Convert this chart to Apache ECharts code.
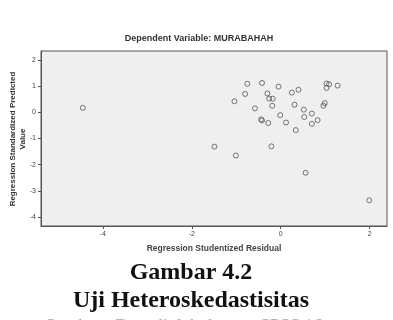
<!DOCTYPE html>
<html>
<head>
<meta charset="utf-8">
<script src="https://cdn.jsdelivr.net/npm/echarts@6/dist/echarts.min.js"></script>
<style>
  html, body { margin: 0; padding: 0; background: #fff; }
  #chart { width: 393px; height: 320px; }
</style>
</head>
<body>
<div id="chart"></div>
<script>
// studentized residual (x) vs standardized predicted value (y)
let residual = [-4.45, -0.75, -0.42, -0.80, -1.04, -0.30, -0.26, -0.18, -0.05, 0.25,
  0.40, -0.19, -0.58, 0.31, 0.52, 0.70, 0.96, 0.99, 1.03, 1.09,
  1.03, 1.28, 0.53, 0.83, -0.01, -0.44, -0.42, -0.28, 0.12, 0.70,
  0.34, -1.49, -0.21, -1.01, 0.56, 1.99]
let predicted = [0.17, 1.09, 1.12, 0.70, 0.42, 0.72, 0.52, 0.52, 0.98, 0.75,
  0.86, 0.25, 0.15, 0.29, 0.10, -0.05, 0.25, 0.35, 1.10, 1.07,
  0.93, 1.02, -0.18, -0.30, -0.11, -0.27, -0.31, -0.41, -0.39, -0.44,
  -0.68, -1.31, -1.30, -1.65, -2.31, -3.36]
let xTicks = [-4, -2, 0, 2]
let yTicks = [-4, -3, -2, -1, 0, 1, 2]

let points = residual.map((v, i) => [v, predicted[i]])

let chart = echarts.init(document.getElementById('chart'))
let tickLabel = { fontSize: 7, color: '#444', fontFamily: 'Liberation Sans' }

let option = {
  animation: false,
  title: {
    text: 'Dependent Variable: MURABAHAH',
    left: 194,
    top: 29,
    textAlign: 'center',
    textStyle: { fontSize: 9, fontWeight: 'bold', color: '#333', fontFamily: 'Liberation Sans' }
  },
  grid: {
    left: 41, right: 6, top: 51, bottom: 94,
    show: true,
    backgroundColor: '#efefef',
    borderColor: '#555',
    borderWidth: 1
  },
  xAxis: {
    type: 'value',
    min: -5.39,
    max: 2.39,
    name: 'Regression Studentized Residual',
    nameLocation: 'middle',
    nameGap: 18,
    nameTextStyle: { fontSize: 8.5, fontWeight: 'bold', color: '#444', fontFamily: 'Liberation Sans' },
    axisLine: { show: true, onZero: false, lineStyle: { color: '#555' } },
    splitLine: { show: false },
    axisTick: { show: true, length: 3, customValues: xTicks, lineStyle: { color: '#555' } },
    axisLabel: Object.assign({ customValues: xTicks, margin: 5 }, tickLabel)
  },
  yAxis: {
    type: 'value',
    min: -4.34,
    max: 2.34,
    axisLine: { show: true, onZero: false, lineStyle: { color: '#555' } },
    splitLine: { show: false },
    axisTick: { show: true, length: 3, customValues: yTicks, lineStyle: { color: '#555' } },
    axisLabel: Object.assign({ customValues: yTicks, margin: 5 }, tickLabel)
  },
  graphic: [
    {
      type: 'text',
      x: 18, y: 139,
      rotation: Math.PI / 2,
      style: {
        text: 'Regression Standardized Predicted\nValue',
        align: 'center',
        verticalAlign: 'middle',
        lineHeight: 10,
        font: 'bold 8px "Liberation Sans"',
        fill: '#333'
      }
    },
    {
      type: 'text',
      x: 191, y: 273,
      style: {
        text: 'Gambar 4.2',
        align: 'center',
        verticalAlign: 'middle',
        font: 'bold 24px "Liberation Serif"',
        fill: '#111'
      }
    },
    {
      type: 'text',
      x: 191, y: 301,
      style: {
        text: 'Uji Heteroskedastisitas',
        align: 'center',
        verticalAlign: 'middle',
        font: 'bold 24px "Liberation Serif"',
        fill: '#111'
      }
    },
    {
      type: 'text',
      x: 184, y: 318.5,
      style: {
        text: 'Sumber : Data diolah dengan SPSS 16',
        align: 'center',
        verticalAlign: 'top',
        font: '18px "Liberation Serif"',
        fill: '#aaa'
      }
    }
  ],
  series: [{
    type: 'scatter',
    data: points,
    symbol: 'circle',
    symbolSize: 5,
    itemStyle: { color: 'rgba(0,0,0,0)', borderColor: '#555', borderWidth: 1 }
  }]
}
chart.setOption(option)
</script>
</body>
</html>
